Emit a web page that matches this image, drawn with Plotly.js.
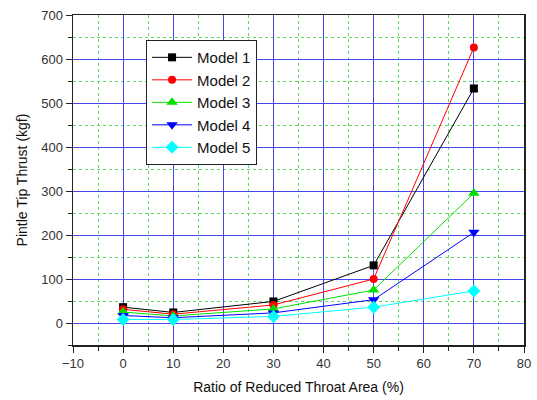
<!DOCTYPE html>
<html><head><meta charset="utf-8">
<script src="https://cdn.plot.ly/plotly-3.0.1.min.js"></script>
<style>body{margin:0;padding:0;background:#fff}#chart{width:537px;height:400px}</style>
</head><body><div id="chart"></div>
<script>
const ratio = [0, 10, 30, 50, 70];
const model1 = [36, 24, 49, 131, 533];
const model2 = [31, 20, 41, 100, 626];
const model3 = [25, 16, 32, 75, 295];
const model4 = [17, 12, 23, 53, 206];
const model5 = [8, 8, 15, 36, 73];
const names = ["Model 1", "Model 2", "Model 3", "Model 4", "Model 5"];
const colors = ["#000000", "#ff0000", "#00e000", "#0000ff", "#00ffff"];
const symbols = ["square", "circle", "triangle-up", "triangle-down", "diamond"];
const series = [model1, model2, model3, model4, model5];

const traces = series.map((s, i) => ({
  x: ratio, y: s, name: names[i], type: "scatter", mode: "lines+markers",
  line: {color: colors[i], width: 1},
  marker: {color: colors[i], symbol: symbols[i], size: i >= 2 ? 10 : 8}
}));

const font = "Liberation Sans, Arial, sans-serif";
const axisCommon = {
  showline: true, linecolor: "#222", linewidth: 1.5, mirror: true,
  ticks: "outside", ticklen: 6, tickcolor: "#222",
  showgrid: true, gridcolor: "#4646ee", gridwidth: 1,
  zeroline: false,
  tickfont: {family: font, size: 13, color: "#333"}
};

const layout = {
  width: 537, height: 400,
  margin: {l: 73, r: 13, t: 15, b: 55},
  paper_bgcolor: "#fff", plot_bgcolor: "#fff",
  showlegend: true,
  legend: {x: 0.162, y: 0.924, xanchor: "left", yanchor: "top",
    bordercolor: "#222", borderwidth: 1, bgcolor: "#fff",
    itemwidth: 40,
    font: {family: font, size: 15, color: "#111"},
    tracegroupgap: 0},
  xaxis: Object.assign({}, axisCommon, {
    range: [-10, 80], dtick: 10, tick0: 0,
    minor: {ticks: "outside", ticklen: 4, tickcolor: "#222", dtick: 5,
      showgrid: true, gridcolor: "#60d860", griddash: "dot", gridwidth: 1},
    title: {text: "Ratio of Reduced Throat Area (%)", standoff: 12,
      font: {family: font, size: 14, color: "#111"}}
  }),
  yaxis: Object.assign({}, axisCommon, {
    range: [-50, 700], dtick: 100, tick0: 0,
    minor: {ticks: "outside", ticklen: 4, tickcolor: "#222", dtick: 50,
      showgrid: true, gridcolor: "#60d860", griddash: "dot", gridwidth: 1},
    title: {text: "Pintle Tip Thrust (kgf)", standoff: 10,
      font: {family: font, size: 14, color: "#111"}}
  })
};

Plotly.newPlot("chart", traces, layout, {displayModeBar: false, staticPlot: true});
</script>
</body></html>
